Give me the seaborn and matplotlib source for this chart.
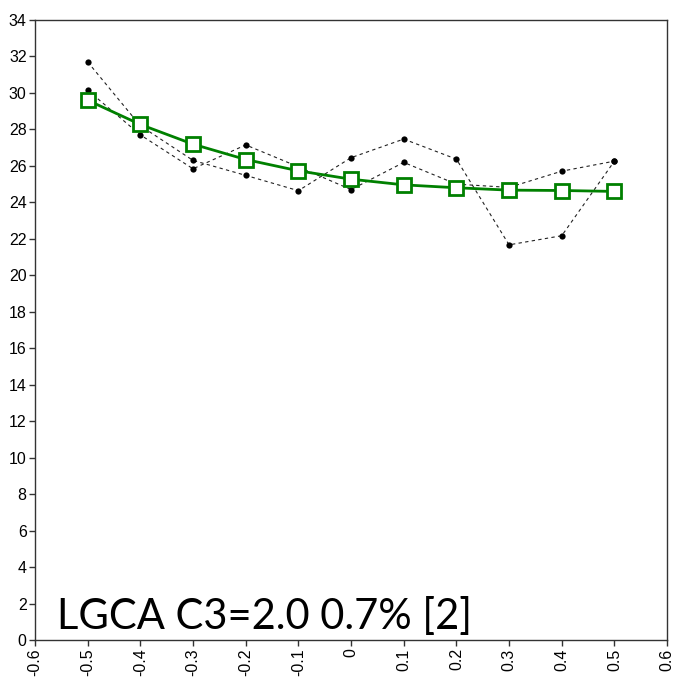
import numpy as np
import pandas as pd
import matplotlib
matplotlib.use("Agg")
import matplotlib.pyplot as plt
import seaborn as sns

# data
x_vals = [-0.5, -0.4, -0.3, -0.2, -0.1, 0.0, 0.1, 0.2, 0.3, 0.4, 0.5]
run_a = [31.7, 28.2, 26.3, 25.48, 24.64, 26.45, 27.47, 26.37, 21.67, 22.17, 26.26]
run_b = [30.15, 27.7, 25.84, 27.15, 25.95, 24.7, 26.19, 25.0, 24.82, 25.71, 26.26]
mean_run = [29.6, 28.27, 27.19, 26.35, 25.73, 25.27, 24.96, 24.8, 24.67, 24.65, 24.6]
x_ticks = [-0.6, -0.5, -0.4, -0.3, -0.2, -0.1, 0, 0.1, 0.2, 0.3, 0.4, 0.5, 0.6]
x_ticklabels = ["-0.6", "-0.5", "-0.4", "-0.3", "-0.2", "-0.1", "0", "0.1", "0.2", "0.3", "0.4", "0.5", "0.6"]
y_ticks = list(range(0, 35, 2))
label_text = "LGCA C3=2.0 0.7% [2]"

sns.set_style("ticks")
plt.rcParams['font.family'] = ['Liberation Sans', 'DejaVu Sans']

df = pd.DataFrame({'x': x_vals, 'a': run_a, 'b': run_b, 'mean': mean_run})

fig = plt.figure(figsize=(6.8, 6.9), dpi=100)
ax = fig.add_axes([0.0515, 0.0725, 0.9295, 0.8985])

for col in ['a', 'b']:
    sns.lineplot(data=df, x='x', y=col, ax=ax, color='#222222', linewidth=0.8,
                 linestyle=(0, (3, 3)), marker='o', markersize=4.5,
                 markeredgewidth=0, markerfacecolor='black')
sns.lineplot(data=df, x='x', y='mean', ax=ax, color='#008000', linewidth=2,
             marker='s', markersize=10, markerfacecolor='white',
             markeredgecolor='#008000', markeredgewidth=2)

ax.set_xlim(-0.6, 0.6)
ax.set_ylim(0, 34)
ax.set_xticks(x_ticks)
ax.set_xticklabels(x_ticklabels, rotation=90, fontsize=11.5, color='black')
ax.set_yticks(y_ticks)
ax.set_yticklabels([str(v) for v in y_ticks], fontsize=11.5, color='black')
ax.set_xlabel('')
ax.set_ylabel('')
for s in ax.spines.values():
    s.set_color('#333333')
    s.set_linewidth(1)
ax.tick_params(length=4, width=1, color='#333333', pad=2)

# big label in the lower left corner
ax.text(0.034, 0.018, label_text, transform=ax.transAxes, fontsize=30,
        family=['Lato', 'DejaVu Sans'], color='black',
        ha='left', va='baseline')

fig.savefig('out.png', dpi=100)
